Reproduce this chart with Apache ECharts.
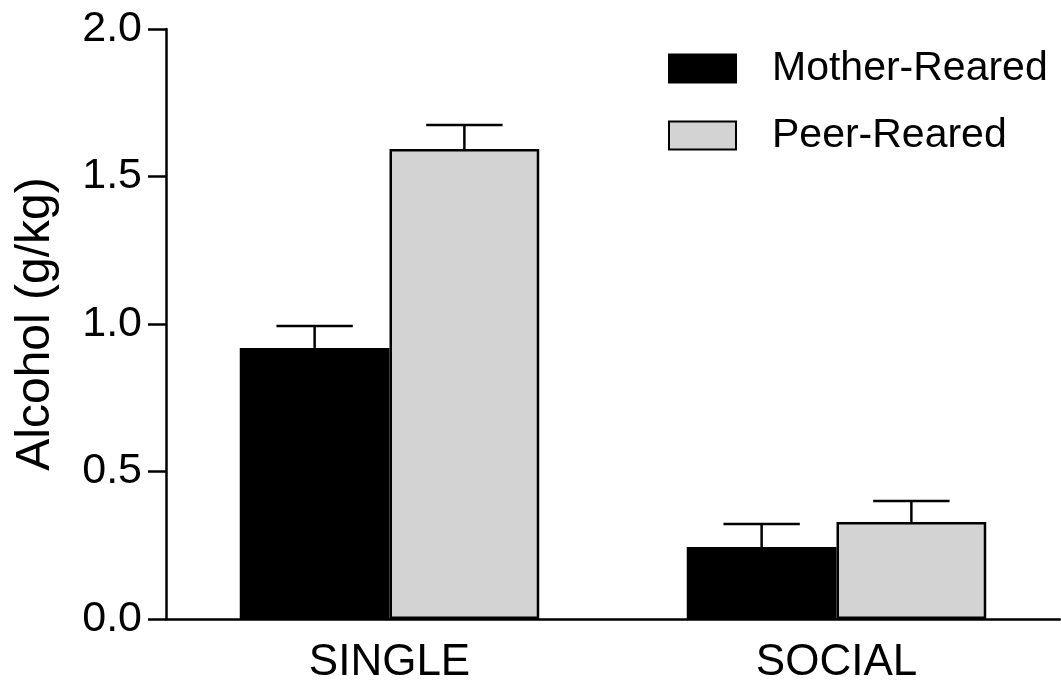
<!DOCTYPE html>
<html>
<head>
<meta charset="utf-8">
<script src="https://cdn.jsdelivr.net/npm/echarts@6/dist/echarts.min.js"></script>
<style>
html,body{margin:0;padding:0;background:#fff;}
#chart{width:1061px;height:684px;}
</style>
</head>
<body>
<div id="chart"></div>
<script>
var categories = ['SINGLE', 'SOCIAL'];
var seriesNames = ['Mother-Reared', 'Peer-Reared'];
var motherValues = [0.919, 0.244];
var motherErrTop = [0.993, 0.322];
var peerValues = [1.593, 0.329];
var peerErrTop = [1.675, 0.400];
var yTicks = [0, 0.5, 1.0, 1.5, 2.0];

var FONT = 'Liberation Sans, Arial, sans-serif';
var GAP_PCT = 0.33;

function errData(vals, tops) {
  return vals.map(function (v, i) { return [i, v, tops[i]]; });
}

function makeErr(side) {
  return function (params, api) {
    var idx = api.value(0);
    var base = api.coord([idx, api.value(1)]);
    var top = api.coord([idx, api.value(2)]);
    var band = api.size([1, 0])[0];
    var bw = band * (1 - GAP_PCT) / 2;
    var cx = base[0] + side * bw / 2;
    var capHalf = bw * 0.255;
    var style = { stroke: '#000', lineWidth: 2.5 };
    return {
      type: 'group',
      children: [
        { type: 'line', shape: { x1: cx, y1: base[1], x2: cx, y2: top[1] }, style: style },
        { type: 'line', shape: { x1: cx - capHalf, y1: top[1], x2: cx + capHalf, y2: top[1] }, style: style }
      ]
    };
  };
}

var chart = echarts.init(document.getElementById('chart'), null, { renderer: 'canvas' });
chart.setOption({
  animation: false,
  backgroundColor: '#fff',
  grid: { left: 166, right: 1, top: 29, bottom: 65, containLabel: false, outerBoundsMode: 'none' },
  legend: {
    orient: 'vertical',
    left: 663,
    top: 43,
    itemWidth: 67,
    itemHeight: 28,
    itemGap: 26,
    icon: 'rect',
    data: seriesNames,
    textStyle: { fontFamily: FONT, fontSize: 41, color: '#000', padding: [0, 0, 0, 31] }
  },
  xAxis: {
    type: 'category',
    data: categories,
    axisLine: { lineStyle: { color: '#000', width: 2.5 } },
    axisTick: { show: false },
    axisLabel: { fontFamily: FONT, fontSize: 44, color: '#000', margin: 22 }
  },
  yAxis: {
    type: 'value',
    min: 0,
    max: 2.0,
    interval: 0.5,
    name: 'Alcohol (g/kg)',
    nameLocation: 'middle',
    nameGap: 106,
    nameTextStyle: { fontFamily: FONT, fontSize: 48, color: '#000' },
    axisLine: { show: true, lineStyle: { color: '#000', width: 2.5 } },
    axisTick: { show: true, length: 18, lineStyle: { color: '#000', width: 2.5 } },
    splitLine: { show: false },
    axisLabel: {
      fontFamily: FONT, fontSize: 43, color: '#000', margin: 24,
      formatter: function (v) { return yTicks.indexOf(v) >= 0 ? v.toFixed(1) : ''; }
    }
  },
  series: [
    {
      name: seriesNames[0], type: 'bar', data: motherValues,
      barGap: '0%', barCategoryGap: (GAP_PCT * 100) + '%',
      itemStyle: { color: '#000', borderColor: '#000', borderWidth: 2 }
    },
    {
      name: seriesNames[1], type: 'bar', data: peerValues,
      barGap: '0%', barCategoryGap: (GAP_PCT * 100) + '%',
      itemStyle: { color: '#d3d3d3', borderColor: '#000', borderWidth: 2.5 }
    },
    {
      type: 'custom', renderItem: makeErr(-1), data: errData(motherValues, motherErrTop),
      encode: { x: 0, y: [1, 2] }, z: 3, silent: true
    },
    {
      type: 'custom', renderItem: makeErr(1), data: errData(peerValues, peerErrTop),
      encode: { x: 0, y: [1, 2] }, z: 3, silent: true
    }
  ]
});
</script>
</body>
</html>
